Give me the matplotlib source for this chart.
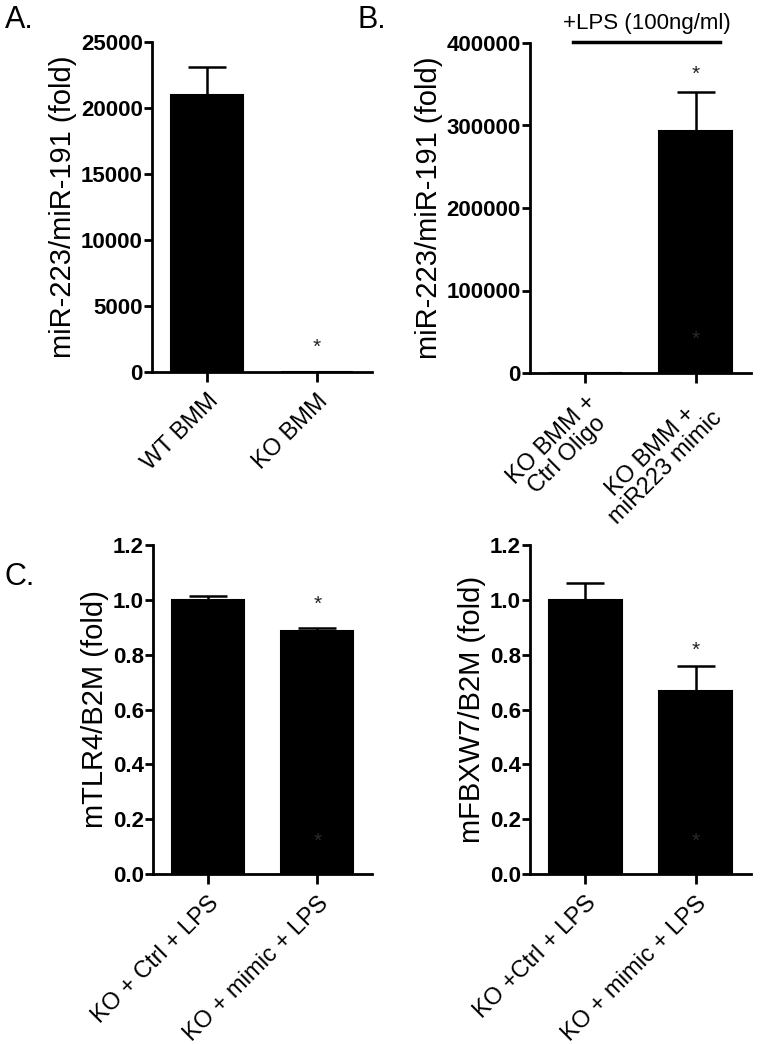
import matplotlib
matplotlib.use('Agg')
import matplotlib.pyplot as plt

plt.rcParams['font.family'] = ['Liberation Sans', 'DejaVu Sans']

# panel A
a_labels = ['WT BMM', 'KO BMM']
a_values = [21000, 5]
a_errors = [2100, 0]
a_stars = [None, 1900]
a_ticks = [0, 5000, 10000, 15000, 20000, 25000]

# panel B
b_labels = ['KO BMM +\nCtrl Oligo', 'KO BMM +\nmiR223 mimic']
b_values = [100, 293000]
b_errors = [0, 47000]
b_stars = [None, 362000]
b_inner_stars = [None, 41000]
b_ticks = [0, 100000, 200000, 300000, 400000]

# panel C left
c1_labels = ['KO + Ctrl + LPS', 'KO + mimic + LPS']
c1_values = [1.0, 0.885]
c1_errors = [0.013, 0.013]
c1_stars = [None, 0.985]
c1_inner_stars = [None, 0.12]

# panel C right
c2_labels = ['KO +Ctrl + LPS', 'KO + mimic + LPS']
c2_values = [1.0, 0.668]
c2_errors = [0.062, 0.09]
c2_stars = [None, 0.817]
c2_inner_stars = [None, 0.12]
c_ticks = [0.0, 0.2, 0.4, 0.6, 0.8, 1.0, 1.2]

W, H = 766, 1044
fig = plt.figure(figsize=(W / 100, H / 100), dpi=100)


def px_axes(left, top, right, bottom):
    return fig.add_axes([left / W, 1 - bottom / H, (right - left) / W, (bottom - top) / H])


def bar_panel(ax, labels, values, errors, ymax, ticks, ylabel, ticklabels,
              stars=None, inner=None):
    x = list(range(len(values)))
    ax.bar(x, values, width=0.66, color='black', edgecolor='black', linewidth=1.5)
    ax.errorbar(x, values, yerr=[[0] * len(errors), errors], fmt='none',
                ecolor='black', elinewidth=1.8, capsize=14, capthick=1.8)
    ax.set_xlim(-0.5, 1.5)
    ax.set_ylim(0, ymax)
    ax.set_yticks(ticks)
    ax.set_yticklabels(ticklabels, fontsize=16, fontweight='bold')
    ax.set_xticks(x)
    ax.set_xticklabels(labels, rotation=45, ha='right', rotation_mode='anchor',
                       fontsize=17, linespacing=1.0, multialignment='center')
    ax.set_ylabel(ylabel, fontsize=21, labelpad=3)
    for s in ['top', 'right']:
        ax.spines[s].set_visible(False)
    for s in ['left', 'bottom']:
        ax.spines[s].set_linewidth(2.0)
    ax.tick_params(axis='both', width=2.0, length=6, direction='out')
    ax.tick_params(axis='x', length=7, pad=6)
    ax.tick_params(axis='y', pad=0.5)
    if stars:
        for xi, s in zip(x, stars):
            if s is not None:
                ax.text(xi, s, '*', ha='center', va='center', fontsize=15, color='#222222')
    if inner:
        for xi, s in zip(x, inner):
            if s is not None:
                ax.text(xi, s, '*', ha='center', va='center', fontsize=15, color='#2a2a2a')


axA = px_axes(152, 42, 372, 372)
bar_panel(axA, a_labels, a_values, a_errors, 25000, a_ticks,
          'miR-223/miR-191 (fold)', [str(t) for t in a_ticks], stars=a_stars)

axB = px_axes(530, 43, 751, 373)
bar_panel(axB, b_labels, b_values, b_errors, 400000, b_ticks,
          'miR-223/miR-191 (fold)', [str(t) for t in b_ticks],
          stars=b_stars, inner=b_inner_stars)
axB.plot([-0.11, 1.22], [1.003, 1.003], color='black', lw=2.5,
         transform=axB.get_xaxis_transform(), clip_on=False)
axB.text(0.555, 1.06, '+LPS (100ng/ml)', transform=axB.get_xaxis_transform(),
         ha='center', va='center', fontsize=16)

axC1 = px_axes(153, 545, 372, 874)
bar_panel(axC1, c1_labels, c1_values, c1_errors, 1.2, c_ticks,
          'mTLR4/B2M (fold)', ['%.1f' % t for t in c_ticks],
          stars=c1_stars, inner=c1_inner_stars)

axC2 = px_axes(530, 545, 751, 874)
bar_panel(axC2, c2_labels, c2_values, c2_errors, 1.2, c_ticks,
          'mFBXW7/B2M (fold)', ['%.1f' % t for t in c_ticks],
          stars=c2_stars, inner=c2_inner_stars)

fig.text(5 / W, 1 - 20 / H, 'A.', fontsize=22, va='center', ha='left')
fig.text(357 / W, 1 - 20 / H, 'B.', fontsize=22, va='center', ha='left')
fig.text(5 / W, 1 - 577 / H, 'C.', fontsize=22, va='center', ha='left')

fig.savefig('out.png', dpi=100)
